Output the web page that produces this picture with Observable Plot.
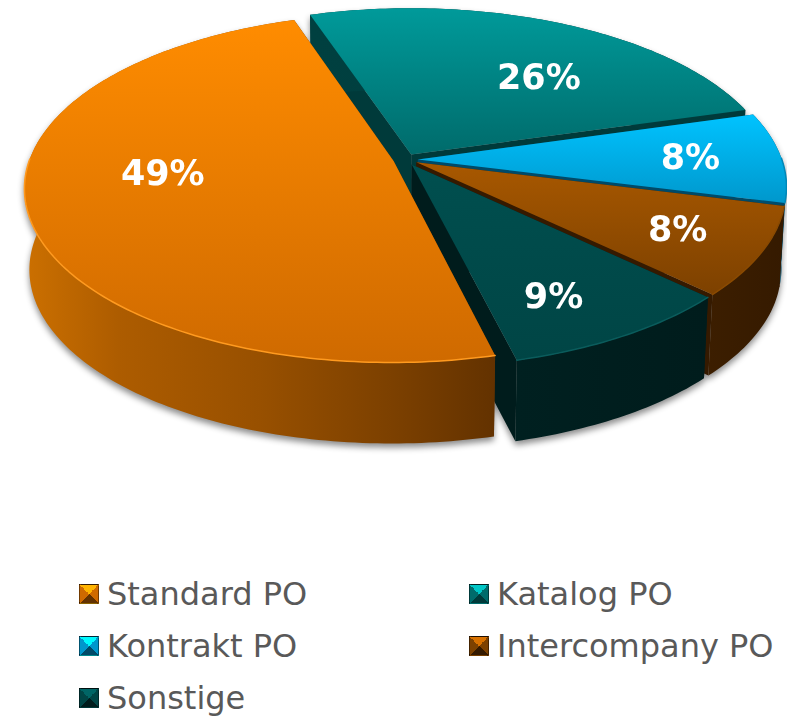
<!DOCTYPE html>
<html>
<head>
<meta charset="utf-8">
<script src="https://cdn.jsdelivr.net/npm/d3@7"></script>
<script src="https://cdn.jsdelivr.net/npm/@observablehq/plot@0.6"></script>
<style>
html,body{margin:0;padding:0;background:#fff;overflow:hidden}
#chart svg{display:block;overflow:visible}
#legend{position:relative;display:grid;grid-template-columns:390px 320px;grid-auto-rows:52px;margin-left:79px;margin-top:8px;
 font-family:"DejaVu Sans",sans-serif;font-size:32px;color:#595959}
.item{display:flex;align-items:center;gap:8px;white-space:nowrap}
.sw{width:18px;height:18px;flex:none;border:1px solid rgba(0,0,0,.45)}
</style>
</head>
<body>
<div id="chart"></div>
<div id="legend"></div>
<script>
// Data
const categories = ["Standard PO","Katalog PO","Kontrakt PO","Intercompany PO","Sonstige"];
const shares = [48.75,25.7,8.4,8.2,8.95];
const labels = ["49%","26%","8%","8%","9%"];

// Palette
const faceTop  = ["#ff8c00","#009a9a","#00c3ff","#a85800","#004f4f"];
const faceEnd  = ["#cf6a00","#006b6b","#0097cc","#7d4100","#004545"];
const rimColor = ["#ff9a1f","#009a9a","#0088b8","#8a4a00","#0a5c5c"];
const wallA    = ["#cc7000","#004040","#005070","#3c1e00","#002020"];
const wallB    = ["#633200","#003a3a","#004a68","#351a00","#001c1c"];

// Layout of the tilted pie
const W = 787, H = 560;
const cx = 405, cy = 159, rx = 364, ry = 170, k = 0.153, explode = 0.034;
const depth = 81 / ry, baseScale = 0.987, startAngle = 166;
const labelRadius = [0.63,0.62,0.75,0.77,0.77];
const labelShift  = [9.5,10,0,0,3.5];

const rad = d => d * Math.PI / 180;
const project = (u, v) => ({x: u / (1 + k * v), y: v / (1 + k * v)});
const total = d3.sum(shares);
let acc = startAngle;
const slices = shares.map((s, i) => {
  const a0 = acc, a1 = acc + s / total * 360; acc = a1;
  const mid = (a0 + a1) / 2;
  const u0 = explode * Math.sin(rad(mid)), v0 = explode * Math.cos(rad(mid));
  const n = Math.ceil(a1 - a0);
  const arc = d3.range(n + 1).map(j => {
    const a = rad(a0 + (a1 - a0) * j / n);
    return project(u0 + Math.sin(a), v0 + Math.cos(a));
  });
  const apex = project(u0, v0);
  const lab = project(u0 + labelRadius[i] * Math.sin(rad(mid + labelShift[i])), v0 + labelRadius[i] * Math.cos(rad(mid + labelShift[i])));
  return {i, arc, apex, lab};
});
const base = p => ({x: p.x * baseScale, y: p.y - depth});

const polygon = (pts, fill) => Plot.line(pts, {x: "x", y: "y", fill, stroke: "none", curve: "linear-closed"});

const gradients = () => {
  const svgNS = "http://www.w3.org/2000/svg";
  const defs = document.createElementNS(svgNS, "defs");
  const grad = (id, x2, y2, stops) => {
    const g = document.createElementNS(svgNS, "linearGradient");
    g.setAttribute("id", id); g.setAttribute("x1", 0); g.setAttribute("y1", 0);
    g.setAttribute("x2", x2); g.setAttribute("y2", y2);
    stops.forEach(([o, c]) => {
      const s = document.createElementNS(svgNS, "stop");
      s.setAttribute("offset", o); s.setAttribute("stop-color", c); g.appendChild(s);
    });
    defs.appendChild(g);
  };
  slices.forEach(({i}) => {
    grad("face" + i, 0, 1, [[0, faceTop[i]], [1, faceEnd[i]]]);
    grad("wall" + i, 1, 0, i === 0
      ? [[0, "#cc7000"], [0.2, "#ad5c00"], [0.5, "#985000"], [0.8, "#7a3f00"], [1, wallB[0]]]
      : [[0, wallA[i]], [1, wallB[i]]]);
  });
  return defs;
};

// draw order: back to front, the large slice last
const order = [1,2,3,4,0];
const layered = [gradients];
order.forEach(i => {
  const {arc, apex} = slices[i];
  const first = arc[0], last = arc[arc.length - 1];
  layered.push(polygon([apex, first, base(first), base(apex)], wallB[i]));
  layered.push(polygon([apex, last, base(last), base(apex)], wallB[i]));
  layered.push(polygon([...arc, ...arc.map(base).reverse()], `url(#wall${i})`));
  layered.push(polygon([apex, ...arc], `url(#face${i})`));
  // bright rim only along the edge that faces the viewer
  const front = arc.filter(p => p.y < 0.02);
  if (front.length > 1) layered.push(Plot.line(front, {x: "x", y: "y", stroke: rimColor[i], strokeWidth: 1.5}));
});
layered.push(Plot.text(slices, {
  x: d => d.lab.x, y: d => d.lab.y, text: d => labels[d.i],
  fill: "white", fontSize: 35, fontWeight: "bold", fontFamily: "DejaVu Sans, sans-serif"
}));

const plot = Plot.plot({
  width: W, height: H, margin: 0,
  x: {domain: [-cx / rx, (W - cx) / rx], range: [0, W], axis: null},
  y: {domain: [cy / ry, (cy - H) / ry], range: [0, H], axis: null},
  style: {background: "transparent", filter: "drop-shadow(0px 4px 3px rgba(0,0,0,0.45))"},
  marks: layered
});
document.getElementById("chart").appendChild(plot);

const legend = document.getElementById("legend");
categories.forEach((c, i) => {
  const item = document.createElement("div"); item.className = "item";
  const sw = document.createElement("span"); sw.className = "sw";
  const light = d3.color(faceTop[i]).brighter(0.7).formatHex();
  sw.style.background = `conic-gradient(from -45deg, ${light} 0 25%, ${faceEnd[i]} 25% 50%, ${wallB[i]} 50% 75%, ${faceEnd[i]} 75% 100%)`;
  const t = document.createElement("span"); t.textContent = c;
  item.append(sw, t); legend.appendChild(item);
});
</script>
</body>
</html>
